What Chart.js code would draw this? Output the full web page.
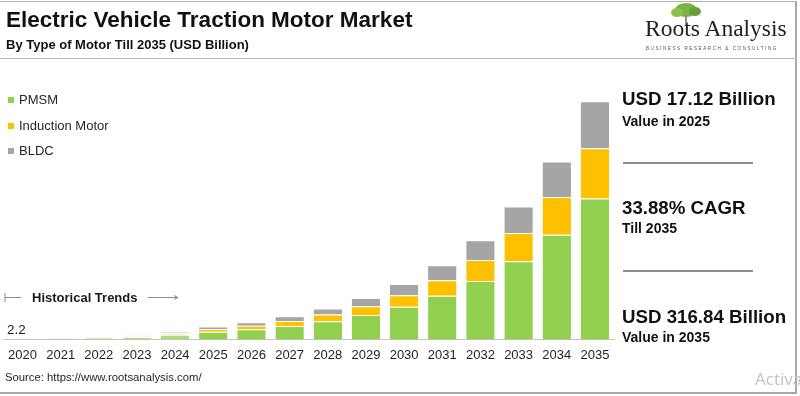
<!DOCTYPE html>
<html>
<head>
<meta charset="utf-8">
<script src="https://cdn.jsdelivr.net/npm/chart.js@4.4.1/dist/chart.umd.min.js"></script>
<style>
html,body{margin:0;padding:0;background:#fff;}
#wrap{position:relative;width:800px;height:396px;overflow:hidden;font-family:"Liberation Sans",Arial,sans-serif;color:#1a1a1a;}
#chart{position:absolute;left:0;top:0;}
.t{position:absolute;white-space:nowrap;line-height:1;}
.b{font-weight:bold;}
#frame{position:absolute;left:-2px;top:1px;width:797px;height:390px;border-top:1px solid #b0b0b0;border-right:2px solid #a8a8a8;border-bottom:2px solid #a8a8a8;}
#sep{position:absolute;left:0;top:58px;width:797px;height:1px;background:#b8b8b8;}
.hr{position:absolute;left:623px;width:130px;height:2px;background:#8c8c8c;}
.leg{position:absolute;left:0;}
.leg i{position:absolute;left:8px;width:6px;height:6px;}
.leg span{position:absolute;left:19px;font-size:13px;line-height:1;white-space:nowrap;color:#262626;}
</style>
</head>
<body>
<div id="wrap">
  <canvas id="chart" width="800" height="396"></canvas>
  <div id="frame"></div>
  <div id="sep"></div>

  <div class="t b" style="left:6px;top:9px;font-size:22.5px;color:#111;">Electric Vehicle Traction Motor Market</div>
  <div class="t b" style="left:6px;top:38px;font-size:13px;color:#111;">By Type of Motor Till 2035 (USD Billion)</div>

  <!-- logo -->
  <div style="position:absolute;left:675px;top:3px;width:22px;height:14px;border-radius:50%;background:#7cb342;"></div>
  <div style="position:absolute;left:671px;top:8px;width:12px;height:9px;border-radius:50%;background:#8bc34a;"></div>
  <div style="position:absolute;left:689px;top:7px;width:12px;height:9px;border-radius:50%;background:#689f38;"></div>
  <div style="position:absolute;left:685px;top:15px;width:2px;height:10px;background:#8d8d8d;"></div>
  <div class="t" style="left:645px;top:17px;font-family:'Liberation Serif','Times New Roman',serif;font-size:23.5px;color:#222;">Roots Analysis</div>
  <div class="t" style="left:646px;top:47px;font-size:4.6px;letter-spacing:1.55px;color:#555;">BUSINESS RESEARCH &amp; CONSULTING</div>

  <div id="legend"></div>

  <!-- historical trends -->
  <svg style="position:absolute;left:0;top:290px;" width="190" height="16">
    <line x1="5" y1="3" x2="5" y2="12" stroke="#8a8a8a" stroke-width="1"/>
    <line x1="5" y1="7.5" x2="21" y2="7.5" stroke="#8a8a8a" stroke-width="1"/>
    <line x1="148" y1="7.5" x2="177" y2="7.5" stroke="#8a8a8a" stroke-width="1"/>
    <path d="M174 5.5 L178 7.5 L174 9.5" fill="none" stroke="#8a8a8a" stroke-width="1"/>
  </svg>
  <div class="t b" style="left:32px;top:291px;font-size:13px;color:#1a1a1a;">Historical Trends</div>
  <div id="firstval" class="t" style="left:7px;top:323px;font-size:13.4px;color:#1a1a1a;"></div>

  <div class="t" style="left:5px;top:372px;font-size:11.3px;color:#262626;">Source: https://www.rootsanalysis.com/</div>

  <!-- right panel -->
  <div class="t b" style="left:622px;top:90px;font-size:18.7px;color:#111;">USD 17.12 Billion</div>
  <div class="t b" style="left:622px;top:114px;font-size:14px;color:#111;">Value in 2025</div>
  <div class="hr" style="top:162px;"></div>
  <div class="t b" style="left:622px;top:199px;font-size:18.7px;color:#111;">33.88% CAGR</div>
  <div class="t b" style="left:622px;top:221px;font-size:14px;color:#111;">Till 2035</div>
  <div class="hr" style="top:270px;"></div>
  <div class="t b" style="left:622px;top:308px;font-size:18.7px;color:#111;">USD 316.84 Billion</div>
  <div class="t b" style="left:622px;top:330px;font-size:14px;color:#111;">Value in 2035</div>

  <div class="t" style="left:755px;top:370px;font-size:17px;color:#c4c4c4;font-family:'Open Sans',sans-serif;">Activate Windows</div>
</div>

<script>
// ---- data ----
const years = ['2020','2021','2022','2023','2024','2025','2026','2027','2028','2029','2030','2031','2032','2033','2034','2035'];
const pmsm      = [1.3, 1.5, 2.4, 3.1, 6.2, 10.1, 13.5, 18.0, 24.3, 32.4, 43.4, 58.2, 77.6, 104.0, 139.4, 187.5];
const induction = [0.47, 0.55, 0.85, 1.1, 2.2, 3.6, 4.8, 6.6, 8.7, 11.6, 15.5, 20.6, 28.0, 37.5, 50.3, 66.8];
const bldc      = [0.43, 0.55, 0.75, 1.1, 2.1, 3.42, 4.6, 6.1, 8.1, 11.1, 14.8, 19.9, 26.5, 35.3, 47.0, 62.54];
const seriesNames = ['PMSM', 'Induction Motor', 'BLDC'];
const historicalYears = ['2020','2021','2022','2023','2024'];
const firstValueLabel = '2.2';

// ---- styles ----
const seriesColors = ['#92D050', '#FFC000', '#A5A5A5'];
const fadeAlpha = [0.75, 0.5, 0.5];

function rgba(hex, a) {
  const n = parseInt(hex.slice(1), 16);
  return 'rgba(' + ((n >> 16) & 255) + ',' + ((n >> 8) & 255) + ',' + (n & 255) + ',' + a + ')';
}

const seriesValues = [pmsm, induction, bldc];
const datasets = seriesNames.map((name, i) => ({
  label: name,
  data: seriesValues[i],
  backgroundColor: years.map(y => historicalYears.includes(y) ? rgba(seriesColors[i], fadeAlpha[i]) : seriesColors[i]),
  borderColor: '#ffffff',
  borderWidth: {top: 1, left: 0, right: 0, bottom: 0},
  borderSkipped: false,
  barPercentage: 0.745,
  categoryPercentage: 1.0
}));

// legend (HTML)
const legendRows = [93, 119, 144];
const legendEl = document.getElementById('legend');
seriesNames.forEach((name, i) => {
  const row = document.createElement('div');
  row.className = 'leg';
  row.style.top = legendRows[i] + 'px';
  row.innerHTML = '<i style="top:4px;background:' + seriesColors[i] + '"></i><span>' + name + '</span>';
  legendEl.appendChild(row);
});
document.getElementById('firstval').textContent = firstValueLabel;

new Chart(document.getElementById('chart').getContext('2d'), {
  type: 'bar',
  data: { labels: years, datasets: datasets },
  options: {
    responsive: false,
    animation: false,
    devicePixelRatio: 1,
    layout: { padding: { left: 1, right: 186, top: 99, bottom: 25 } },
    plugins: { legend: { display: false }, tooltip: { enabled: false } },
    scales: {
      x: {
        stacked: true,
        grid: { display: false, drawTicks: false },
        border: { display: true, color: '#c4c4c4', width: 1 },
        ticks: { color: '#1f1f1f', font: { family: 'Liberation Sans', size: 13 }, padding: 8, autoSkip: false, maxRotation: 0 }
      },
      y: { stacked: true, display: false, min: 0, max: 320 }
    }
  }
});
</script>
</body>
</html>
